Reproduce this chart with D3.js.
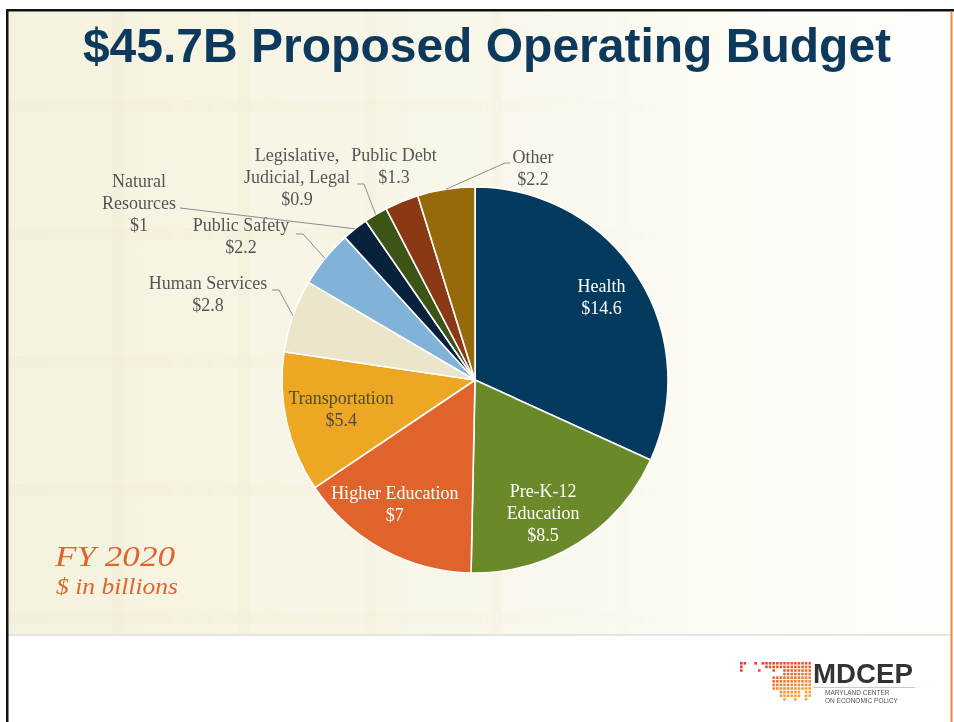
<!DOCTYPE html>
<html>
<head>
<meta charset="utf-8">
<script src="https://cdn.jsdelivr.net/npm/d3@7"></script>
<style>
  html, body { margin: 0; padding: 0; background: #ffffff; }
  svg { display: block; }
</style>
</head>
<body>
<svg id="chart" width="954" height="722"></svg>
<script>
// FY 2020 proposed operating budget, $ in billions
const categories = [
  "Health", "Pre-K-12 Education", "Higher Education", "Transportation",
  "Human Services", "Public Safety", "Natural Resources",
  "Legislative, Judicial, Legal", "Public Debt", "Other"
];
const values = [14.6, 8.5, 7, 5.4, 2.8, 2.2, 1, 0.9, 1.3, 2.2];
const valueLabels = ["$14.6", "$8.5", "$7", "$5.4", "$2.8", "$2.2", "$1", "$0.9", "$1.3", "$2.2"];
const labelLines = [
  ["Health"], ["Pre-K-12", "Education"], ["Higher Education"], ["Transportation"],
  ["Human Services"], ["Public Safety"], ["Natural", "Resources"],
  ["Legislative,", "Judicial, Legal"], ["Public Debt"], ["Other"]
];
const sliceColors = [
  "#033a5e", "#6a8a29", "#e0632b", "#eea723", "#ebe5c9",
  "#80b3d7", "#07223a", "#3d5417", "#8b3915", "#96690b"
];

// label placement: inside labels are nudged from the slice centroid,
// outside labels sit at a fixed spot with a leader (elbow, end) back to the rim
const labelLayout = [
  { inside: true,  dx: 0,   dy: -2, color: "#ffffff" },
  { inside: true,  dx: -12, dy: 6,  color: "#ffffff" },
  { inside: true,  dx: -8,  dy: -8, color: "#ffffff" },
  { inside: true,  dx: 13,  dy: -4, color: "#4a4a4a" },
  { inside: false, x: 208, y: 289, leader: [[279, 290], [272, 290]] },
  { inside: false, x: 241, y: 231, leader: [[303, 234], [296, 234]] },
  { inside: false, x: 139, y: 187, leader: [[180, 208]] },
  { inside: false, x: 297, y: 161, leader: [[364, 184], [357, 184]] },
  { inside: false, x: 394, y: 161, leader: null },
  { inside: false, x: 533, y: 163, leader: [[505, 163], [510, 163]] }
];

const svg = d3.select("#chart");
const W = 954, H = 722;

// ---- slide background ----
const defs = svg.append("defs");
const bgGrad = defs.append("linearGradient").attr("id", "bgGrad")
  .attr("x1", "0").attr("y1", "0").attr("x2", "1").attr("y2", "0");
bgGrad.append("stop").attr("offset", "0").attr("stop-color", "#f5f2df");
bgGrad.append("stop").attr("offset", "0.45").attr("stop-color", "#f8f6e8");
bgGrad.append("stop").attr("offset", "0.75").attr("stop-color", "#fcfbf4");
bgGrad.append("stop").attr("offset", "1").attr("stop-color", "#fefefb");

const fadeGrad = defs.append("linearGradient").attr("id", "fadeGrad")
  .attr("x1", "0").attr("y1", "0").attr("x2", "1").attr("y2", "0");
fadeGrad.append("stop").attr("offset", "0").attr("stop-color", "#fff").attr("stop-opacity", 1);
fadeGrad.append("stop").attr("offset", "0.4").attr("stop-color", "#fff").attr("stop-opacity", 0.6);
fadeGrad.append("stop").attr("offset", "0.75").attr("stop-color", "#fff").attr("stop-opacity", 0);
const fadeMask = defs.append("mask").attr("id", "fadeMask")
  .attr("maskUnits", "userSpaceOnUse").attr("x", 0).attr("y", 0).attr("width", W).attr("height", H);
fadeMask.append("rect").attr("x", 8).attr("y", 11).attr("width", 943).attr("height", 623)
  .attr("fill", "url(#fadeGrad)");

svg.append("rect").attr("x", 0).attr("y", 0).attr("width", W).attr("height", H).attr("fill", "#ffffff");
svg.append("rect").attr("x", 8).attr("y", 11).attr("width", 943).attr("height", 623).attr("fill", "url(#bgGrad)");

// faint window-pane texture, fading out toward the right
const pane = svg.append("g").attr("mask", "url(#fadeMask)").attr("opacity", 0.5);
d3.range(112, 700, 126).forEach(px => {
  pane.append("rect").attr("x", px).attr("y", 11).attr("width", 12).attr("height", 623)
    .attr("fill", "#ebe4c4").attr("opacity", 0.45);
});
d3.range(100, 634, 128).forEach(py => {
  pane.append("rect").attr("x", 8).attr("y", py).attr("width", 943).attr("height", 12)
    .attr("fill", "#ebe4c4").attr("opacity", 0.35);
});

// divider between slide body and footer
svg.append("rect").attr("x", 8).attr("y", 634).attr("width", 943).attr("height", 2).attr("fill", "#e4e4e0");

// frame lines
svg.append("rect").attr("x", 6).attr("y", 9).attr("width", 948).attr("height", 2.5).attr("fill", "#111");
svg.append("rect").attr("x", 6).attr("y", 9).attr("width", 2.5).attr("height", 713).attr("fill", "#111");
svg.append("rect").attr("x", 950.5).attr("y", 11.5).attr("width", 2).attr("height", 711).attr("fill", "#e88a45");

// ---- title ----
svg.append("text")
  .attr("x", 487).attr("y", 62)
  .attr("text-anchor", "middle")
  .attr("font-family", "'Liberation Sans', Arial, sans-serif")
  .attr("font-weight", "bold")
  .attr("font-size", 48)
  .attr("fill", "#0d3a5c")
  .text("$45.7B Proposed Operating Budget");

// ---- pie ----
const cx = 475, cy = 380, R = 193;
const data = categories.map((c, i) => ({ name: c, value: values[i], i }));
const pie = d3.pie().sort(null).value(d => d.value);
const arcs = pie(data);
const arc = d3.arc().innerRadius(0).outerRadius(R);
const labelArc = d3.arc().innerRadius(R * 0.78).outerRadius(R * 0.78);
const rimArc = d3.arc().innerRadius(R).outerRadius(R);

const g = svg.append("g").attr("transform", `translate(${cx},${cy})`);
g.selectAll("path.slice")
  .data(arcs)
  .join("path")
  .attr("class", "slice")
  .attr("d", arc)
  .attr("fill", d => sliceColors[d.data.i])
  .attr("stroke", "#ffffff")
  .attr("stroke-width", 1.6)
  .attr("stroke-linejoin", "round");

const labelFont = "'Liberation Serif', 'Times New Roman', serif";
const lineH = 22;

arcs.forEach(a => {
  const i = a.data.i;
  const lay = labelLayout[i];
  const lines = labelLines[i].concat([valueLabels[i]]);
  let x, y;
  if (lay.inside) {
    const c = labelArc.centroid(a);
    x = cx + c[0] + lay.dx;
    // center the text block on the nudged centroid
    y = cy + c[1] + lay.dy - ((lines.length - 1) * lineH) / 2 + 6;
  } else {
    x = lay.x;
    y = lay.y;
    if (lay.leader) {
      const rim = rimArc.centroid(a);
      const pts = [[cx + rim[0], cy + rim[1]]].concat(lay.leader);
      svg.append("path")
        .attr("d", d3.line()(pts))
        .attr("fill", "none")
        .attr("stroke", "#8c8c8c")
        .attr("stroke-width", 1);
    }
  }
  const t = svg.append("text")
    .attr("text-anchor", "middle")
    .attr("font-family", labelFont)
    .attr("font-size", 18)
    .attr("fill", lay.inside ? lay.color : "#555555");
  lines.forEach((ln, k) => {
    t.append("tspan").attr("x", x).attr("y", y + k * lineH).text(ln);
  });
});

// ---- fiscal year note ----
svg.append("text")
  .attr("x", 55).attr("y", 566)
  .attr("font-family", "'Liberation Serif', Georgia, serif")
  .attr("font-style", "italic")
  .attr("font-size", 29)
  .attr("fill", "#e0652d")
  .attr("textLength", 120).attr("lengthAdjust", "spacingAndGlyphs")
  .text("FY 2020");
svg.append("text")
  .attr("x", 56).attr("y", 594)
  .attr("font-family", "'Liberation Serif', Georgia, serif")
  .attr("font-style", "italic")
  .attr("font-size", 23)
  .attr("fill", "#e0652d")
  .attr("textLength", 122).attr("lengthAdjust", "spacingAndGlyphs")
  .text("$ in billions");

// ---- MDCEP logo ----
const logo = svg.append("g");
const cell = 3.6, sq = 2.6, gx0 = 740, gy0 = 662;
const cols = 20, rows = 11;
// rough outline of the state drawn as a dot grid
function inShape(c, r) {
  if (r === 0) return c <= 1 || c === 4 || c >= 6;
  if (r === 1) return c === 0 || c >= 7;
  if (r === 2) return c === 0 || c === 5 || c === 9 || c >= 12;
  if (r <= 5) return c >= 12 || (c >= 9 && r >= 4);
  if (r <= 7) return c >= 9 && c <= 19;
  if (r <= 9) return (c >= 11 && c <= 16) || c >= 18;
  return c === 12 || c === 15 || c === 18;
}
const logoColor = d3.scaleLinear().domain([0, 1]).range(["#e2302a", "#f6a63e"]).interpolate(d3.interpolateRgb);
for (let r = 0; r < rows; r++) {
  for (let c = 0; c < cols; c++) {
    if (!inShape(c, r)) continue;
    const tcol = Math.min(1, (r / rows) * 0.8 + (c / cols) * 0.45);
    logo.append("rect")
      .attr("x", gx0 + c * cell).attr("y", gy0 + r * cell)
      .attr("width", sq).attr("height", sq)
      .attr("fill", logoColor(tcol));
  }
}
logo.append("text")
  .attr("x", 813).attr("y", 683)
  .attr("font-family", "'Liberation Sans', Arial, sans-serif")
  .attr("font-weight", "bold")
  .attr("font-size", 27)
  .attr("fill", "#333333")
  .attr("textLength", 100).attr("lengthAdjust", "spacingAndGlyphs")
  .text("MDCEP");
logo.append("rect").attr("x", 813).attr("y", 687).attr("width", 102).attr("height", 0.8).attr("fill", "#eeaaa6");
logo.append("text")
  .attr("x", 825).attr("y", 695)
  .attr("font-family", "'Liberation Sans', Arial, sans-serif")
  .attr("font-size", 6.5).attr("fill", "#555")
  .text("MARYLAND CENTER");
logo.append("text")
  .attr("x", 825).attr("y", 703)
  .attr("font-family", "'Liberation Sans', Arial, sans-serif")
  .attr("font-size", 6.5).attr("fill", "#555")
  .text("ON ECONOMIC POLICY");
</script>
</body>
</html>
